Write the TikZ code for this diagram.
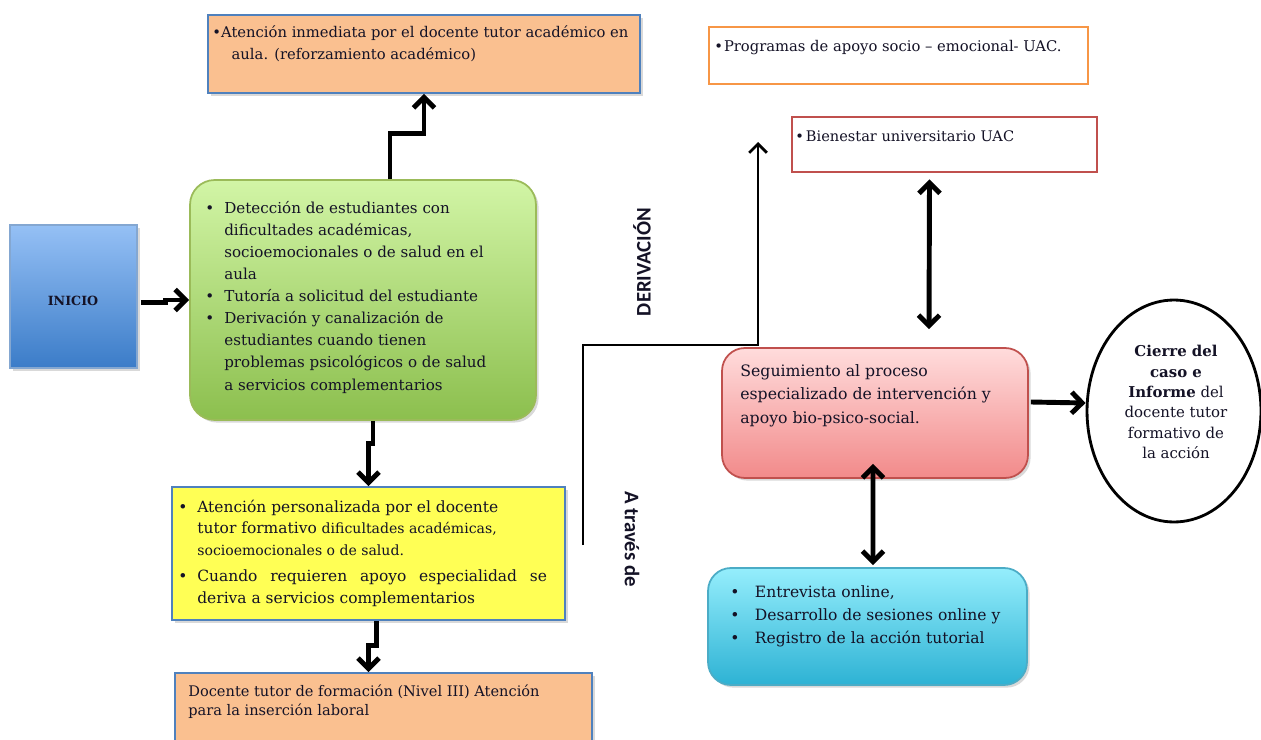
\documentclass[tikz,border=0pt]{standalone}
\usepackage{fontspec}
\setmainfont{DejaVu Serif}
\newfontfamily\rotfont{Carlito}
\usetikzlibrary{positioning, shapes.geometric, arrows.meta, shadows, calc}

\definecolor{azulborde}{HTML}{4F81BD}
\definecolor{durazno}{HTML}{FAC090}
\definecolor{amarillo}{HTML}{FFFF55}
\definecolor{verdeclaro}{HTML}{D2F5A6}
\definecolor{verdeoscuro}{HTML}{8CBF4E}
\definecolor{verdeborde}{HTML}{9BBB59}
\definecolor{azulclaro}{HTML}{95C0F5}
\definecolor{azuloscuro}{HTML}{3B7CC8}
\definecolor{rosaclaro}{HTML}{FFDCDC}
\definecolor{rosaoscuro}{HTML}{F28A8A}
\definecolor{rojoborde}{HTML}{C0504D}
\definecolor{cianclaro}{HTML}{95EEFC}
\definecolor{cianoscuro}{HTML}{2DB2D4}
\definecolor{cianborde}{HTML}{4BACC6}
\definecolor{naranja}{HTML}{F79646}
\definecolor{tinta}{HTML}{141226}

\tikzset{
  caja/.style={rectangle, draw=azulborde, line width=1pt, inner sep=0pt,
    drop shadow={opacity=0.3, shadow xshift=1.5pt, shadow yshift=-1.5pt}},
  redonda/.style={caja, rounded corners=13pt},
  marco/.style={rectangle, line width=1.6pt, fill=white, inner sep=0pt},
  texto/.style={inner sep=0pt, anchor=base west, text=tinta},
  gruesa/.style={line width=2.8pt, -{Straight Barb[length=6pt, width=12pt]}},
  doble/.style={line width=2.8pt,
    {Straight Barb[length=6pt, width=12pt]}-{Straight Barb[length=6pt, width=12pt]}},
  fina/.style={line width=1.6pt, -{Straight Barb[length=5pt, width=10pt]}},
}

\begin{document}
\begin{tikzpicture}[x=0.02cm, y=-0.02cm]
\useasboundingbox (0,0) rectangle (1261,740);

% lado izquierdo
\node[caja, draw=azulborde!70, top color=azulclaro, bottom color=azuloscuro,
  minimum width=2.54cm, minimum height=2.86cm] (inicio) at (73.5,296.5) {};
\node[font=\bfseries\fontsize{7.2}{8}\selectfont, text=tinta, inner sep=0pt] (t-inicio) at (73,301) {INICIO};

\node[redonda, draw=verdeborde, top color=verdeclaro, bottom color=verdeoscuro,
  minimum width=6.92cm, minimum height=4.8cm, rounded corners=14pt] (deteccion) at (363,300) {};
\node[texto, font=\fontsize{8.6}{12.6}\selectfont] (t-deteccion) at (205,213) {%
  \begin{tabular}[t]{@{}p{10.8pt}@{}l@{}}
  \textbullet & Detección de estudiantes con\\
   & dificultades académicas,\\
   & socioemocionales o de salud en el\\
   & aula\\
  \textbullet & Tutoría a solicitud del estudiante\\
  \textbullet & Derivación y canalización de\\
   & estudiantes cuando tienen\\
   & problemas psicológicos o de salud\\
   & a servicios complementarios
  \end{tabular}};

\node[caja, fill=durazno, minimum width=8.64cm, minimum height=1.56cm] (inmediata) at (424,54) {};
\node[texto, font=\fontsize{8.4}{12.5}\selectfont] (t-inmediata) at (212,38) {%
  \begin{tabular}[t]{@{}p{5pt}@{}l@{}}
  \textbullet & Atención inmediata por el docente tutor académico en\\
   & \hspace{6pt}aula. (reforzamiento académico)
  \end{tabular}};

\node[caja, fill=amarillo, minimum width=7.86cm, minimum height=2.66cm] (personalizada) at (368.5,553.5) {};
\node[texto, font=\fontsize{8.8}{12.4}\selectfont] (t-personalizada) at (178,512) {%
  \begin{tabular}[t]{@{}p{10.8pt}@{}l@{}}
  \textbullet & Atención personalizada por el docente\\
   & tutor formativo {\fontsize{8}{8}\selectfont dificultades académicas,}\\
   & {\fontsize{8}{8}\selectfont socioemocionales o de salud.}\\[2.5pt]
  \textbullet & \makebox[199pt][s]{Cuando requieren apoyo especialidad se}\\
   & deriva a servicios complementarios
  \end{tabular}};

\node[caja, fill=durazno, minimum width=8.34cm, minimum height=1.74cm] (insercion) at (383.5,716.5) {};
\node[texto, font=\fontsize{8.3}{11.3}\selectfont] (t-insercion) at (188,696) {%
  \begin{tabular}[t]{@{}l@{}}
  Docente tutor de formación (Nivel III) Atención\\
  para la inserción laboral
  \end{tabular}};

% lado derecho
\node[marco, draw=naranja, minimum width=7.58cm, minimum height=1.14cm] (programas) at (898.5,55.5) {};
\node[texto, font=\fontsize{8.4}{11}\selectfont] (t-programas) at (714,52) {%
  \begin{tabular}[t]{@{}p{5.5pt}@{}l@{}}
  \textbullet & Programas de apoyo socio – emocional- UAC.
  \end{tabular}};

\node[marco, draw=rojoborde, minimum width=6.1cm, minimum height=1.1cm] (bienestar) at (944.5,144.5) {};
\node[texto, font=\fontsize{8.3}{11}\selectfont] (t-bienestar) at (795,141) {%
  \begin{tabular}[t]{@{}p{6pt}@{}l@{}}
  \textbullet & Bienestar universitario UAC
  \end{tabular}};

\node[redonda, draw=rojoborde, top color=rosaclaro, bottom color=rosaoscuro,
  minimum width=6.12cm, minimum height=2.6cm] (seguimiento) at (875,413) {};
\node[texto, font=\fontsize{8.95}{13.6}\selectfont] (t-seguimiento) at (740,376) {%
  \begin{tabular}[t]{@{}l@{}}
  Seguimiento al proceso\\
  especializado de intervención y\\
  apoyo bio-psico-social.
  \end{tabular}};

\node[ellipse, draw=black, line width=1.6pt, fill=white, inner sep=0pt,
  minimum width=3.48cm, minimum height=4.44cm] (cierre) at (1174,411) {};
\node[font=\fontsize{8.5}{11.6}\selectfont, align=center, text=tinta, inner sep=0pt] (t-cierre) at (1176,402)
  {\textbf{Cierre del}\\\textbf{caso e}\\\textbf{Informe} del\\docente tutor\\formativo de\\la acción};

\node[redonda, draw=cianborde, top color=cianclaro, bottom color=cianoscuro,
  minimum width=6.38cm, minimum height=2.34cm] (sesiones) at (867.5,626.5) {};
\node[texto, font=\fontsize{8.85}{13.3}\selectfont] (t-sesiones) at (730,597) {%
  \begin{tabular}[t]{@{}p{14pt}@{}l@{}}
  \textbullet & Entrevista online,\\
  \textbullet & Desarrollo de sesiones online y\\
  \textbullet & Registro de la acción tutorial
  \end{tabular}};

% rotulos verticales
\node[font=\rotfont\bfseries\fontsize{11.8}{12}\selectfont, rotate=90, text=tinta] (derivacion) at (642,262) {DERIVACIÓN};
\node[font=\rotfont\bfseries\fontsize{11.8}{12}\selectfont, rotate=-90, text=tinta] (traves) at (632,539) {A través de};

% conectores
\draw[gruesa] ($(inicio.east)+(3,6)$) -- ++(25,0) |- (deteccion.west);
\draw[gruesa] ($(deteccion.north)+(27,0)$) -- ++(0,-46) -| (inmediata.south);
\draw[gruesa] ($(deteccion.south)+(10,0)$) -- ++(0,23) -| (personalizada.north);
\draw[gruesa] ($(personalizada.south)+(8,0)$) -- ++(0,25) -| ($(insercion.north)+(-15,0)$);

\coordinate (inicio-derivacion) at (583,545);
\coordinate (fin-derivacion) at (758,142);
\draw[fina] (inicio-derivacion) -- ++(0,-200) -| (fin-derivacion);

\draw[doble] ($(bienestar.south)+(-15,6)$) -- ($(seguimiento.north)+(54,-18)$);
\draw[doble] ($(seguimiento.south)+(-2,-15)$) -- ($(sesiones.north)+(5.5,-2)$);
\draw[gruesa] ($(seguimiento.east)+(2,-11)$) -- ($(cierre.west)+(0,-8)$);
\end{tikzpicture}
\end{document}
